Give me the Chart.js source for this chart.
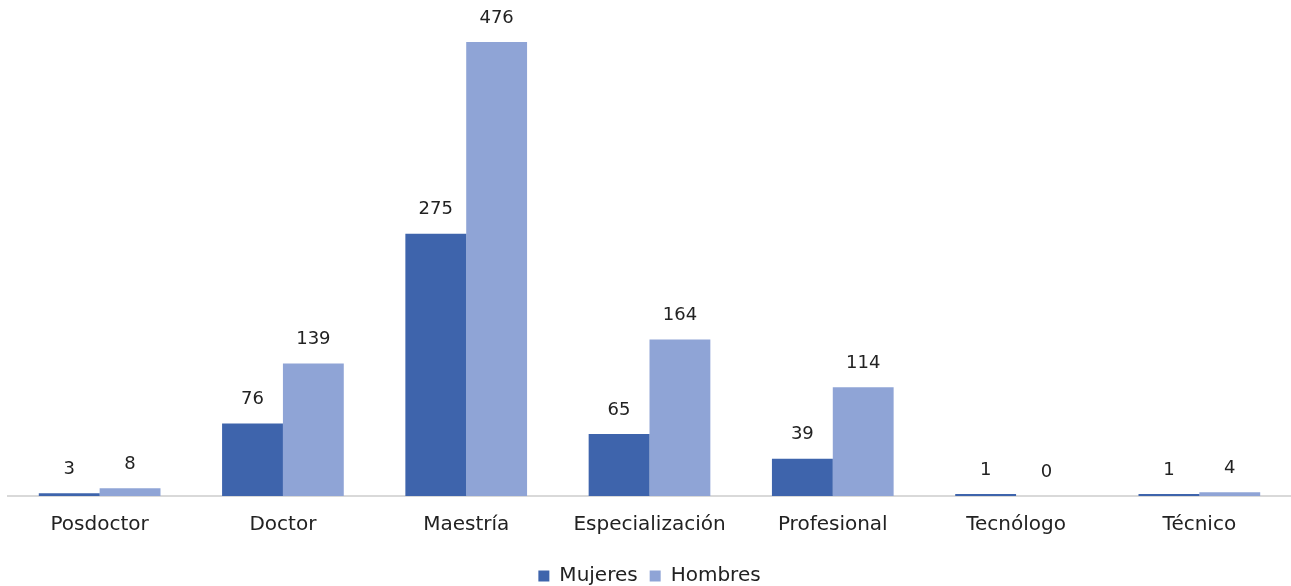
<!DOCTYPE html>
<html>
<head>
<meta charset="utf-8">
<script src="https://cdn.jsdelivr.net/npm/chart.js@4"></script>
<style>
  html, body { margin: 0; padding: 0; background: #fff; }
  #wrap { width: 1291px; height: 586px; }
</style>
</head>
<body>
<div id="wrap"><canvas id="nivelChart"></canvas></div>
<script>
// Datos
const categories = ['Posdoctor', 'Doctor', 'Maestría', 'Especialización', 'Profesional', 'Tecnólogo', 'Técnico'];
const mujeres = [3, 76, 275, 65, 39, 1, 1];
const hombres = [8, 139, 476, 164, 114, 0, 4];

const fontFamily = "'DejaVu Sans', sans-serif";

// Etiquetas de valor encima de cada barra
const valueLabels = {
  id: 'valueLabels',
  afterDatasetsDraw(chart) {
    const ctx = chart.ctx;
    ctx.save();
    ctx.font = '18px ' + fontFamily;
    ctx.fillStyle = '#222';
    ctx.textAlign = 'center';
    ctx.textBaseline = 'middle';
    chart.data.datasets.forEach((ds, i) => {
      chart.getDatasetMeta(i).data.forEach((bar, j) => {
        ctx.fillText(ds.data[j], bar.x, bar.y - 24);
      });
    });
    ctx.restore();
  }
};

const ctx = document.getElementById('nivelChart').getContext('2d');
const nivelChart = new Chart(ctx, {
  type: 'bar',
  data: {
    labels: categories,
    datasets: [{
      label: 'Mujeres',
      data: mujeres,
      backgroundColor: '#3e64ac',
      borderWidth: 0,
      minBarLength: 2
    }, {
      label: 'Hombres',
      data: hombres,
      backgroundColor: '#8fa4d6',
      borderWidth: 0
    }]
  },
  options: {
    responsive: true,
    maintainAspectRatio: false,
    animation: false,
    categoryPercentage: 0.664,
    barPercentage: 1,
    layout: {
      padding: { left: 8, right: 0, top: 19, bottom: -10 }
    },
    plugins: {
      legend: {
        position: 'bottom',
        labels: {
          font: { family: fontFamily, size: 20 },
          color: '#222',
          boxWidth: 11,
          boxHeight: 11,
          padding: 12
        }
      },
      tooltip: { enabled: false }
    },
    scales: {
      y: {
        display: false,
        beginAtZero: true,
        max: 500
      },
      x: {
        grid: { display: false },
        border: { color: '#d9d9d9', width: 2 },
        ticks: {
          font: { family: fontFamily, size: 20 },
          color: '#222',
          padding: 9
        },
        afterFit(scale) {
          scale.height += 8;
        }
      }
    }
  },
  plugins: [valueLabels]
});
</script>
</body>
</html>
